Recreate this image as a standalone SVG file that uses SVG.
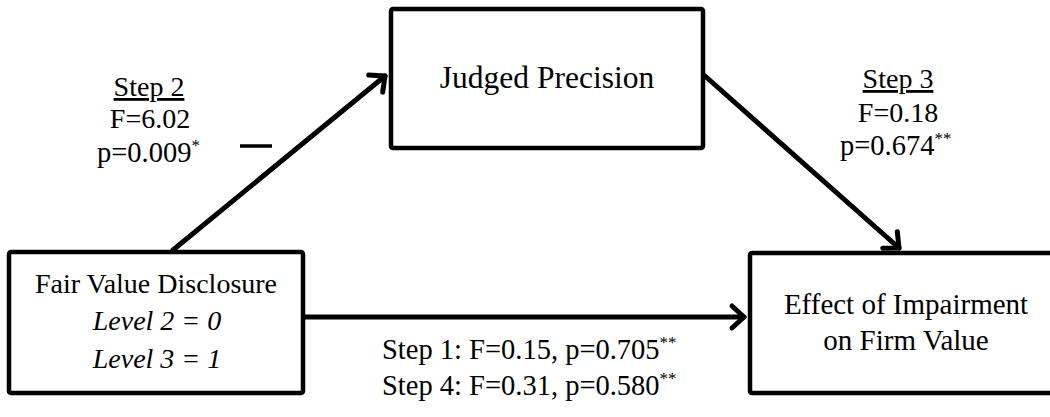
<svg xmlns="http://www.w3.org/2000/svg" width="1050" height="417" viewBox="0 0 1050 417">
<style>
.box{fill:#fff;stroke:#000;stroke-width:4.5}
.t{font-family:"Liberation Serif","Times New Roman",serif;font-size:28px;fill:#000;text-anchor:middle}
.s{font-family:"Liberation Serif","Times New Roman",serif;font-size:28.5px;fill:#000}
.i{font-style:italic}
.sup{font-size:17px}
.c{fill:none;stroke:#000;stroke-width:5;stroke-linecap:round}
</style>
<defs>
<marker id="ah" markerUnits="userSpaceOnUse" markerWidth="30" markerHeight="30" refX="22" refY="15" orient="auto" viewBox="0 0 30 30">
<path d="M10,4 L22,15 L10,26" fill="none" stroke="#000" stroke-width="5" stroke-linecap="round" stroke-linejoin="round"/>
</marker>
</defs>
<g id="connectors">
<line class="c" x1="173" y1="250" x2="385" y2="76" marker-end="url(#ah)"/>
<line class="c" x1="705" y1="76" x2="899" y2="248" marker-end="url(#ah)"/>
<line class="c" x1="303" y1="317" x2="744" y2="317" marker-end="url(#ah)"/>
<line x1="240" y1="146" x2="272" y2="146" stroke="#000" stroke-width="3.5"/>
</g>
<g id="judged">
<rect class="box" x="391" y="9" width="312" height="139" rx="2"/>
<text class="t" x="547" y="88" style="font-size:31.5px">Judged Precision</text>
</g>
<g id="fair">
<rect class="box" x="9" y="252" width="294" height="141" rx="2"/>
<text class="t" x="156" y="293">Fair Value Disclosure</text>
<text class="t i" x="157" y="330">Level 2 = 0</text>
<text class="t i" x="157" y="368">Level 3 = 1</text>
</g>
<g id="effect">
<rect class="box" x="750" y="253" width="320" height="140" rx="2"/>
<text class="t" x="906" y="314" style="font-size:29px">Effect of Impairment</text>
<text class="t" x="906" y="350" style="font-size:29px">on Firm Value</text>
</g>
<g id="labels">
<text class="t" x="149" y="96" text-decoration="underline">Step 2</text>
<text class="t" x="150" y="128">F=6.02</text>
<text class="s" x="97" y="162">p=0.009<tspan class="sup" dy="-11">*</tspan></text>
<text class="t" x="898" y="88" text-decoration="underline">Step 3</text>
<text class="t" x="898" y="122">F=0.18</text>
<text class="s" x="840" y="155">p=0.674<tspan class="sup" dy="-11">**</tspan></text>
<text class="s" x="382" y="359">Step 1: F=0.15, p=0.705<tspan class="sup" dy="-11">**</tspan></text>
<text class="s" x="382" y="395">Step 4: F=0.31, p=0.580<tspan class="sup" dy="-11">**</tspan></text>
</g>
</svg>
